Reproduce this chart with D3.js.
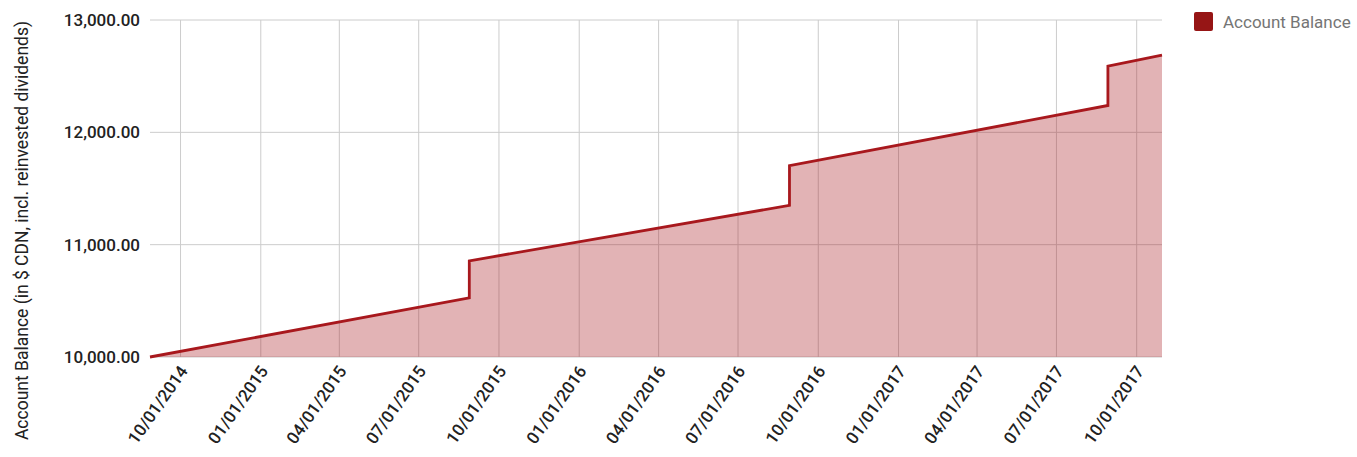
<!DOCTYPE html>
<html>
<head>
<meta charset="utf-8">
<script src="https://cdn.jsdelivr.net/npm/d3@7"></script>
<style>
  body { margin: 0; background: #fff; font-family: Roboto, sans-serif; }
  .grid line { stroke: #cccccc; stroke-width: 1; }
  .tick-label { fill: #222; font-size: 17px; font-weight: 500; }
</style>
</head>
<body>
<div id="chart"></div>
<script>
// account balance, stepping up on each yearly anniversary
const dates = ["2014-08-27", "2015-08-28", "2015-08-28", "2016-08-29", "2016-08-29", "2017-08-29", "2017-08-29", "2017-10-30"];
const balances = [10000, 10526, 10856, 11350, 11704, 12239, 12590, 12688];
const yTicks = [10000, 11000, 12000, 13000];
const seriesName = "Account Balance";
const yTitle = "Account Balance (in $ CDN, incl. reinvested dividends)";

const config = {
  containerWidth: 1357,
  containerHeight: 457,
  margin: { top: 20, right: 195, bottom: 100, left: 150 }
};
const lineColour = "#a8181d";

const parse = d3.timeParse("%Y-%m-%d");
const data = dates.map((d, i) => ({ date: parse(d), value: balances[i] }));

const width = config.containerWidth - config.margin.left - config.margin.right;
const height = 357 - config.margin.top;

const svg = d3.select('#chart').append('svg')
  .attr('width', config.containerWidth)
  .attr('height', config.containerHeight);

const chart = svg.append('g')
  .attr('transform', `translate(${config.margin.left},${config.margin.top})`);

const x = d3.scaleTime()
  .domain(d3.extent(data, d => d.date))
  .range([0, width]);

const y = d3.scaleLinear()
  .domain([10000, 13000])
  .range([height, 0]);

const xTicks = d3.timeMonth.every(3).range(x.domain()[0], x.domain()[1]);

// gridlines
const grid = chart.append('g').attr('class', 'grid');
grid.selectAll('.hgrid')
  .data(yTicks)
  .join('line')
  .attr('x1', 0).attr('x2', width)
  .attr('y1', d => y(d)).attr('y2', d => y(d));
grid.selectAll('.vgrid')
  .data(xTicks)
  .join('line')
  .attr('x1', d => x(d)).attr('x2', d => x(d))
  .attr('y1', 0).attr('y2', height);

// area + line
const area = d3.area()
  .x(d => x(d.date))
  .y0(y(10000))
  .y1(d => y(d.value));
const line = d3.line()
  .x(d => x(d.date))
  .y(d => y(d.value));

chart.append('path')
  .datum(data)
  .attr('d', area)
  .attr('fill', lineColour)
  .attr('fill-opacity', 0.33);

chart.append('path')
  .datum(data)
  .attr('d', line)
  .attr('fill', 'none')
  .attr('stroke', lineColour)
  .attr('stroke-width', 2.8)
  .attr('stroke-linejoin', 'miter');

// y labels
const fmtY = d3.format(",.2f");
chart.selectAll('.ylabel')
  .data(yTicks)
  .join('text')
  .attr('class', 'tick-label')
  .attr('x', -10)
  .attr('y', d => y(d))
  .attr('dy', '0.35em')
  .attr('text-anchor', 'end')
  .text(d => fmtY(d));

// x labels, slanted
const fmtX = d3.timeFormat("%m/%d/%Y");
chart.selectAll('.xlabel')
  .data(xTicks)
  .join('text')
  .attr('class', 'tick-label')
  .attr('text-anchor', 'end')
  .attr('transform', d => `translate(${x(d) + 8},${height + 14}) rotate(-55)`)
  .text(d => fmtX(d));

// axis title
svg.append('text')
  .attr('transform', `translate(28,${(config.containerHeight) / 2 + 2}) rotate(-90)`)
  .attr('text-anchor', 'middle')
  .style('font-size', '17.5px')
  .style('fill', '#222')
  .text(yTitle);

// legend
const legend = svg.append('g').attr('transform', 'translate(1194,12)');
legend.append('rect')
  .attr('width', 19).attr('height', 19)
  .attr('rx', 2)
  .attr('fill', '#961515');
legend.append('text')
  .attr('x', 29).attr('y', 10)
  .attr('dy', '0.35em')
  .style('font-size', '17px')
  .style('fill', '#757575')
  .text(seriesName);
</script>
</body>
</html>
